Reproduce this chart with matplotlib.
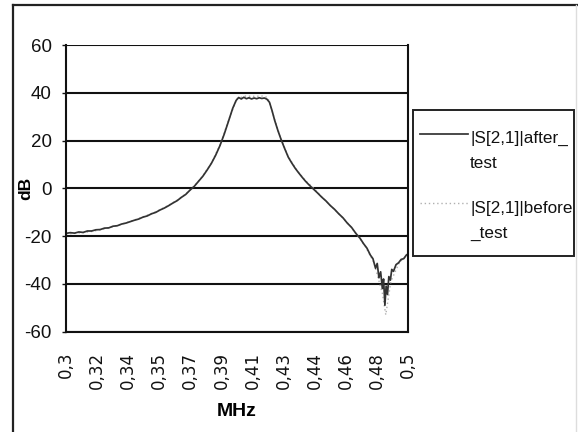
import matplotlib
matplotlib.use("Agg")
import matplotlib.pyplot as plt
from matplotlib.lines import Line2D
from matplotlib.patches import Rectangle

# ---- data ----
after_freq = [0.3000, 0.3025, 0.3050, 0.3075, 0.3100, 0.3125, 0.3150, 0.3175, 0.3200, 0.3225,
              0.3250, 0.3275, 0.3300, 0.3325, 0.3350, 0.3375, 0.3400, 0.3425, 0.3450, 0.3475,
              0.3500, 0.3525, 0.3550, 0.3575, 0.3600, 0.3625, 0.3650, 0.3675, 0.3700, 0.3725,
              0.3750, 0.3775, 0.3800, 0.3825, 0.3850, 0.3875, 0.3900, 0.3925, 0.3950, 0.3975,
              0.3995, 0.4010, 0.4025, 0.4040, 0.4055, 0.4070, 0.4085, 0.4100, 0.4115, 0.4130,
              0.4145, 0.4160, 0.4175, 0.4190, 0.4205, 0.4220, 0.4240, 0.4260, 0.4280, 0.4300,
              0.4320, 0.4340, 0.4360, 0.4380, 0.4400, 0.4420, 0.4445, 0.4470, 0.4495, 0.4520,
              0.4545, 0.4570, 0.4595, 0.4620, 0.4645, 0.4670, 0.4695, 0.4720, 0.4740, 0.4760,
              0.4780, 0.4795, 0.4810, 0.4820, 0.4830, 0.4840, 0.4850, 0.4857, 0.4865, 0.4872,
              0.4880, 0.4888, 0.4897, 0.4905, 0.4915, 0.4930, 0.4945, 0.4960, 0.4975, 0.4990,
              0.5000]
after_db = [-18.9, -18.6, -18.8, -18.3, -18.5, -17.9, -17.9, -17.4, -17.3, -16.7,
            -16.6, -15.9, -15.7, -15.0, -14.6, -14.0, -13.4, -12.9, -12.1, -11.6,
            -10.7, -10.1, -9.1, -8.3, -7.3, -6.2, -5.2, -3.8, -2.6, -0.8,
            0.8, 2.9, 5.0, 7.6, 10.4, 13.8, 17.8, 22.6, 28.0, 33.5,
            36.8, 38.0, 37.4, 38.1, 37.5, 37.9, 37.4, 37.8, 37.5, 37.9,
            37.6, 37.8, 37.3, 36.0, 32.5, 28.5, 24.0, 20.0, 16.4, 13.0,
            10.6, 8.4, 6.5, 4.7, 3.0, 1.5, -0.2, -1.9, -3.7, -5.3,
            -7.2, -8.8, -10.7, -12.4, -14.6, -16.4, -18.9, -21.0, -23.2, -25.1,
            -28.0, -29.5, -33.5, -31.5, -37.5, -35.0, -42.0, -38.0, -49.0, -41.0,
            -44.5, -37.0, -38.5, -34.0, -34.8, -32.0, -31.2, -29.8, -29.5, -28.0,
            -27.5]

before_freq = [0.300, 0.305, 0.310, 0.315, 0.320, 0.325, 0.330, 0.335, 0.340, 0.345,
               0.350, 0.355, 0.360, 0.365, 0.370, 0.375, 0.380, 0.385, 0.390, 0.395,
               0.400, 0.405, 0.410, 0.415, 0.418, 0.420, 0.425, 0.430, 0.435, 0.440,
               0.445, 0.450, 0.455, 0.460, 0.465, 0.470, 0.475, 0.480, 0.485, 0.487,
               0.490, 0.495, 0.500]
before_db = [-19.2, -18.9, -18.6, -18.1, -17.4, -16.6, -15.6, -14.5, -13.3, -12.0,
             -10.6, -9.0, -7.1, -5.0, -2.4, 0.9, 5.2, 10.6, 18.0, 28.4,
             37.6, 38.6, 38.5, 38.6, 38.0, 33.5, 22.0, 13.2, 7.6, 3.2,
             -0.1, -3.9, -7.5, -11.0, -14.8, -19.3, -24.3, -31.0, -44.0, -53.0,
             -39.0, -31.0, -27.8]

x_tick_labels = ["0,3", "0,32", "0,34", "0,35", "0,37", "0,39", "0,41",
                 "0,43", "0,44", "0,46", "0,48", "0,5"]
y_ticks = [-60, -40, -20, 0, 20, 40, 60]
label_after = "|S[2,1]|after_\ntest"
label_before = "|S[2,1]|before\n_test"

# ---- figure ----
W, H = 578, 432
fig = plt.figure(figsize=(W / 100, H / 100), dpi=100)
fig.patch.set_facecolor("white")

def fx(px):
    return px / W

def fy(py):
    return 1 - py / H

SANS = ["Liberation Sans", "DejaVu Sans"]

# outer chart frame
fig.add_artist(Line2D([fx(13), fx(578)], [fy(5), fy(5)], color="#222222", lw=1.6))
fig.add_artist(Line2D([fx(13), fx(13)], [fy(5), fy(432)], color="#222222", lw=1.6))
fig.add_artist(Line2D([fx(576), fx(576)], [fy(5), fy(432)], color="#dddddd", lw=1.0))

ax = fig.add_axes([fx(66), fy(331.5), fx(408) - fx(66), fy(45) - fy(331.5)])
ax.set_facecolor("white")

ax.plot(before_freq, before_db, color="#b0b0b0", lw=1.0, ls=(0, (1, 2)))
ax.plot(after_freq, after_db, color="#333333", lw=1.25)

ax.set_xlim(0.3, 0.5)
ax.set_ylim(-60, 60)

n = len(x_tick_labels)
xt = [0.3 + 0.2 * i / (n - 1) for i in range(n)]
ax.set_xticks(xt)
ax.set_xticklabels(x_tick_labels, rotation=90, family="DejaVu Sans", fontsize=12)
ax.tick_params(axis="x", length=0, pad=14.5, colors="#111111")

ax.set_yticks(y_ticks)
ax.set_yticklabels([str(v) for v in y_ticks], family=SANS, fontsize=13.5)
ax.tick_params(axis="y", length=3.2, width=1.0, pad=7, color="#111111", labelcolor="#111111")

ax.grid(axis="y", color="#111111", lw=1.5)
ax.set_axisbelow(True)
for side in ["left", "bottom", "right"]:
    ax.spines[side].set_color("#111111")
    ax.spines[side].set_linewidth(1.5)
ax.spines["top"].set_visible(False)

ax.set_ylabel("dB", family=SANS, fontweight="bold",
              fontsize=12.5, rotation=90, ha="center", va="center")
ax.yaxis.set_label_coords((26 - 66) / 342, 0.5)
ax.set_xlabel("MHz", family=SANS, fontweight="bold", fontsize=14,
              ha="center", va="center")
ax.xaxis.set_label_coords(0.5, (331.5 - 412) / 286.5)

# legend box (manual layout to match the reference)
fig.add_artist(Rectangle((fx(413), fy(256)), fx(574) - fx(413), fy(110) - fy(256),
                         facecolor="white", edgecolor="#222222", lw=1.4))
fig.add_artist(Line2D([fx(420), fx(468)], [fy(134), fy(134)], color="#333333", lw=1.25))
fig.add_artist(Line2D([fx(420), fx(468)], [fy(203), fy(203)], color="#b0b0b0", lw=1.0,
                      ls=(0, (1, 2))))
fig.text(fx(470), fy(151), label_after, family=SANS, fontsize=12.3, ha="left",
         va="center", linespacing=1.8, color="#111111")
fig.text(fx(470), fy(221), label_before, family=SANS, fontsize=12.3, ha="left",
         va="center", linespacing=1.8, color="#111111")

fig.savefig("out.png", dpi=100)
